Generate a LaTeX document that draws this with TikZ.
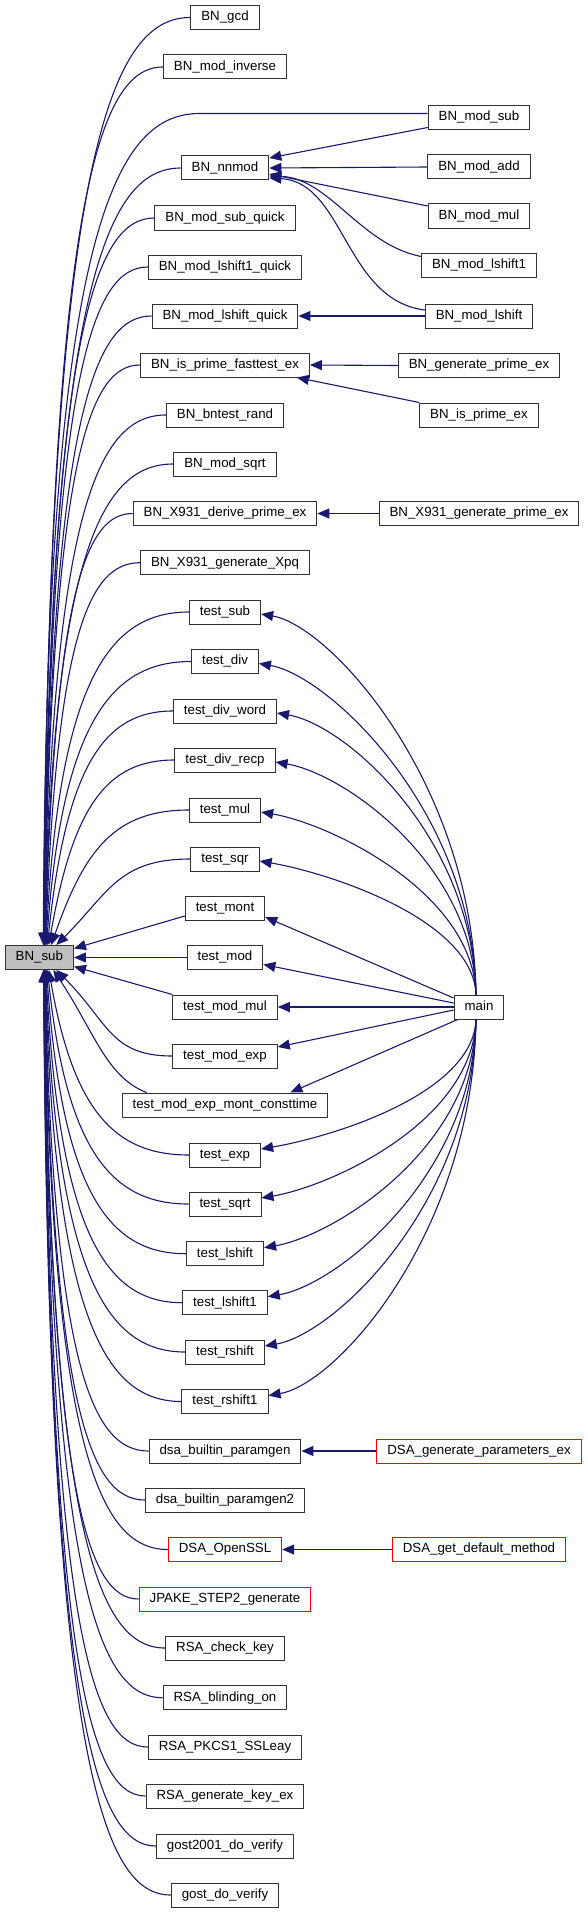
\documentclass[tikz,border=0pt]{standalone}
\usepackage{fontspec}
\setmainfont{Liberation Sans}
\usetikzlibrary{arrows.meta,calc}
\definecolor{navy}{RGB}{25,25,112}

\tikzset{
  box/.style={draw=black!80, line width=1pt, fill=white, minimum height=24pt,
    inner xsep=10.5pt, inner ysep=0pt, text height=9.6pt, text depth=2.9pt,
    font=\fontsize{13.3}{14}\selectfont},
  redbox/.style={box, draw=red},
  edge/.style={navy, line width=1.1pt, <-},
}

\begin{document}
\begin{tikzpicture}[x=1pt, y=-1pt, >={Triangle[length=12pt,width=10pt]}]
  \useasboundingbox (0,0) rectangle (587,1913);
  % callee
  \node[box, fill=black!25] (sub) at (39.3,957.5) {BN\_sub};
  % direct callers
  \node[box] (gcd) at (225,17.5) {BN\_gcd};
  \node[box] (inv) at (225,67) {BN\_mod\_inverse};
  \node[box] (nnmod) at (225,168) {BN\_nnmod};
  \node[box] (subq) at (225,218) {BN\_mod\_sub\_quick};
  \node[box] (ls1q) at (225,267) {BN\_mod\_lshift1\_quick};
  \node[box] (lsq) at (225,316) {BN\_mod\_lshift\_quick};
  \node[box] (fast) at (225,365) {BN\_is\_prime\_fasttest\_ex};
  \node[box] (rand) at (225,415) {BN\_bntest\_rand};
  \node[box] (sqrt) at (225,464) {BN\_mod\_sqrt};
  \node[box] (xder) at (225,513.5) {BN\_X931\_derive\_prime\_ex};
  \node[box] (xpq) at (225,562.7) {BN\_X931\_generate\_Xpq};
  \node[box] (tsub) at (225,612) {test\_sub};
  \node[box] (tdiv) at (225,661.5) {test\_div};
  \node[box] (tdw) at (225,711) {test\_div\_word};
  \node[box] (tdr) at (225,760) {test\_div\_recp};
  \node[box] (tmul) at (225,810) {test\_mul};
  \node[box] (tsqr) at (225,859) {test\_sqr};
  \node[box] (tmont) at (225,908) {test\_mont};
  \node[box] (tmod) at (225,957.5) {test\_mod};
  \node[box] (tmm) at (225,1007) {test\_mod\_mul};
  \node[box] (tme) at (225,1056) {test\_mod\_exp};
  \node[box] (cmt) at (225,1105) {test\_mod\_exp\_mont\_consttime};
  \node[box] (texp) at (225,1155) {test\_exp};
  \node[box] (tsqrt) at (225,1204) {test\_sqrt};
  \node[box] (tls) at (225,1253.7) {test\_lshift};
  \node[box] (tls1) at (225,1302.7) {test\_lshift1};
  \node[box] (trs) at (225,1352) {test\_rshift};
  \node[box] (trs1) at (225,1401.5) {test\_rshift1};
  \node[box] (pg) at (225,1451) {dsa\_builtin\_paramgen};
  \node[box] (pg2) at (225,1500) {dsa\_builtin\_paramgen2};
  \node[redbox] (ossl) at (225,1549.5) {DSA\_OpenSSL};
  \node[redbox] (jpake) at (225,1599) {JPAKE\_STEP2\_generate};
  \node[box] (chk) at (225,1648) {RSA\_check\_key};
  \node[box] (blind) at (225,1697.7) {RSA\_blinding\_on};
  \node[box] (pkcs) at (225,1747) {RSA\_PKCS1\_SSLeay};
  \node[box] (gkey) at (225,1796) {RSA\_generate\_key\_ex};
  \node[box] (g2001) at (225,1846) {gost2001\_do\_verify};
  \node[box] (gost) at (225,1895) {gost\_do\_verify};
  % second level callers
  \node[box] (msub) at (479,117.5) {BN\_mod\_sub};
  \node[box] (madd) at (479,167) {BN\_mod\_add};
  \node[box] (mmul) at (479,216) {BN\_mod\_mul};
  \node[box] (mls1) at (479,265.5) {BN\_mod\_lshift1};
  \node[box] (mls) at (479,316) {BN\_mod\_lshift};
  \node[box] (gpe) at (479,365.5) {BN\_generate\_prime\_ex};
  \node[box] (ipe) at (479,415) {BN\_is\_prime\_ex};
  \node[box] (xgp) at (479,513.5) {BN\_X931\_generate\_prime\_ex};
  \node[box] (main) at (479,1007) {main};
  \node[redbox] (dgp) at (479,1451) {DSA\_generate\_parameters\_ex};
  \node[redbox] (ddm) at (479,1549.5) {DSA\_get\_default\_method};

  % edges into BN_sub
  \foreach \nd/\yy in {gcd/17.5,inv/67,nnmod/168,subq/218,ls1q/267,lsq/316,fast/365,
      rand/415,sqrt/464,xder/513.5,xpq/562.7,tsub/612,tdiv/661.5,tdw/711,tdr/760,
      tmul/810,tsqr/859}{
    \pgfmathsetmacro\q{86/(945-\yy)}
    \pgfmathsetmacro\xs{3+14*\q}
    \pgfmathsetmacro\ax{52*\q}
    \pgfmathsetmacro\ay{-(0.88-0.28*\q)*(945-\yy)}
    \draw[edge] let \p1=(\nd.west) in ([xshift=\xs pt]sub.north)
      .. controls +(\ax,\ay) and +({-0.55*(\x1-(42+\xs)*1pt)},0) .. (\nd.west);
  }
  \foreach \nd/\yy in {tme/1056,texp/1155,tsqrt/1204,tls/1253.7,tls1/1302.7,trs/1352,
      trs1/1401.5,pg/1451,pg2/1500,ossl/1549.5,jpake/1599,chk/1648,blind/1697.7,
      pkcs/1747,gkey/1796,g2001/1846,gost/1895}{
    \pgfmathsetmacro\q{86/(\yy-970)}
    \pgfmathsetmacro\xs{3+14*\q}
    \pgfmathsetmacro\ax{52*\q}
    \pgfmathsetmacro\ay{(0.88-0.28*\q)*(\yy-970)}
    \draw[edge] let \p1=(\nd.west) in ([xshift=\xs pt]sub.south)
      .. controls +(\ax,\ay) and +({-0.55*(\x1-(42+\xs)*1pt)},0) .. (\nd.west);
  }
  \draw[edge] ([xshift=4pt]sub.north) .. controls +(3,-715) and +(-85,0)
    .. ([xshift=-228pt,yshift=4pt]msub.west) -- ([yshift=4pt]msub.west);
  \draw[edge] ([yshift=9pt]sub.east) -- ([yshift=-8pt]tmont.west);
  \draw[edge] (sub.east) -- (tmod.west);
  \draw[edge] ([yshift=-9pt]sub.east) -- (tmm.north west);
  \draw[edge] ([xshift=14pt]sub.south) .. controls +(40,60) and +(-40,-15)
    .. ([xshift=25pt]cmt.north west);

  % edges into the middle column
  \draw[edge] ([yshift=10pt]nnmod.east) -- ([yshift=-10pt]msub.west);
  \draw[edge] (nnmod.east) -- (madd.west);
  \draw[edge] ([yshift=-6pt]nnmod.east) -- ([yshift=10pt]mmul.west);
  \draw[edge] ([yshift=-8pt]nnmod.east) .. controls +(60,2) and +(-61,-12) .. ([yshift=9pt]mls1.west);
  \draw[edge] ([yshift=-10pt]nnmod.east) .. controls +(75,4) and +(-80,-10) .. ([yshift=6pt]mls.west);
  \draw[edge] (lsq.east) -- (mls.west);
  \draw[edge] (fast.east) -- (gpe.west);
  \draw[edge] ([xshift=-13pt]fast.south east) -- (ipe.north west);
  \draw[edge] (xder.east) -- (xgp.west);
  \draw[edge] (pg.east) -- (dgp.west);
  \draw[edge] (ossl.east) -- (ddm.west);

  % edges from main
  \foreach \nd/\yy in {tsub/612,tdiv/661.5,tdw/711,tdr/760,tmul/810,tsqr/859}{
    \pgfmathsetmacro\ay{-0.55*(995-\yy)}
    \draw[edge] ([yshift=-2pt]\nd.east) .. controls +(70,12) and +(-3,\ay) .. ([xshift=-3pt]main.north);
  }
  \foreach \nd/\yy in {texp/1155,tsqrt/1204,tls/1253.7,tls1/1302.7,trs/1352,trs1/1401.5}{
    \pgfmathsetmacro\ay{0.55*(\yy-1019)}
    \draw[edge] ([yshift=6pt]\nd.east) .. controls +(70,-12) and +(-3,\ay) .. ([xshift=-3pt]main.south);
  }
  \draw[edge] ([yshift=-9pt]tmont.east) -- ([yshift=9pt]main.west);
  \draw[edge] ([yshift=-7pt]tmod.east) -- ([yshift=4pt]main.west);
  \draw[edge] (tmm.east) -- (main.west);
  \draw[edge] ([yshift=9pt]tme.east) -- ([yshift=-3pt]main.west);
  \draw[edge] ([xshift=-38pt]cmt.north east) -- ([xshift=4pt]main.south west);
\end{tikzpicture}
\end{document}
